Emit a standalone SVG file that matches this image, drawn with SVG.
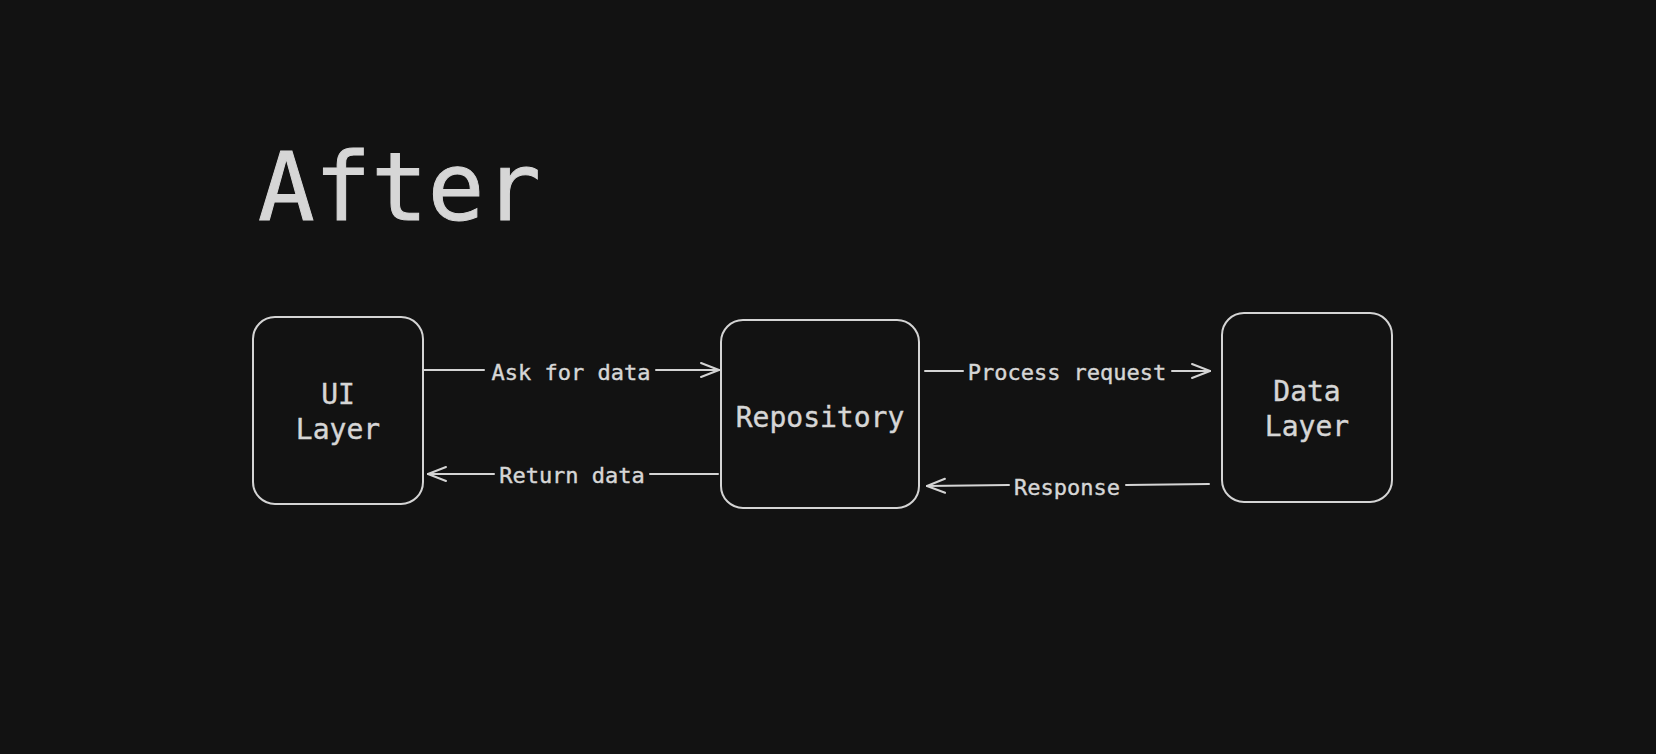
<svg xmlns="http://www.w3.org/2000/svg" width="1656" height="754" viewBox="0 0 1656 754">
<style>
.bg{fill:#121212}
.box{fill:#121212;stroke:#d4d4d4;stroke-width:2}
.t{font-family:"DejaVu Sans Mono","Liberation Mono",monospace;fill:#d6d6d6;text-anchor:middle;stroke:#d6d6d6;stroke-width:0.4}
.node{font-size:28px}
.lbl{font-size:22px}
.edge{stroke:#d4d4d4;stroke-width:2;fill:none;stroke-linecap:round}
</style>
<defs>
<marker id="ah" viewBox="0 0 20 20" refX="19" refY="10" markerWidth="20" markerHeight="20" markerUnits="userSpaceOnUse" orient="auto">
<path d="M1 3 L19 10 L1 17" fill="none" stroke="#d4d4d4" stroke-width="2" stroke-linecap="round"/>
</marker>
</defs>
<rect class="bg" width="1656" height="754"/>
<text class="t" x="258" y="220" style="text-anchor:start;font-size:94px;stroke-width:1">After</text>
<g id="connectors">
<g id="e1">
<path class="edge" d="M420 370 L484 370"/>
<path class="edge" d="M656 370 L719 370" marker-end="url(#ah)"/>
<text class="t lbl" x="571" y="380">Ask for data</text>
</g>
<g id="e2">
<path class="edge" d="M718 474 L650 474"/>
<path class="edge" d="M494 474 L428 474" marker-end="url(#ah)"/>
<text class="t lbl" x="572" y="483">Return data</text>
</g>
<g id="e3">
<path class="edge" d="M925 371 L963 371"/>
<path class="edge" d="M1172 371 L1210 371" marker-end="url(#ah)"/>
<text class="t lbl" x="1067" y="380">Process request</text>
</g>
<g id="e4">
<path class="edge" d="M1209 484 L1126 485"/>
<path class="edge" d="M1009 485 L927 486" marker-end="url(#ah)"/>
<text class="t lbl" x="1067" y="495">Response</text>
</g>
</g>
<g id="ui">
<rect class="box" x="253" y="317" width="170" height="187" rx="22"/>
<text class="t node" x="338" y="404">UI</text>
<text class="t node" x="338" y="439">Layer</text>
</g>
<g id="repo">
<rect class="box" x="721" y="320" width="198" height="188" rx="22"/>
<text class="t node" x="820" y="427">Repository</text>
</g>
<g id="data">
<rect class="box" x="1222" y="313" width="170" height="189" rx="22"/>
<text class="t node" x="1307" y="401">Data</text>
<text class="t node" x="1307" y="436">Layer</text>
</g>
</svg>
